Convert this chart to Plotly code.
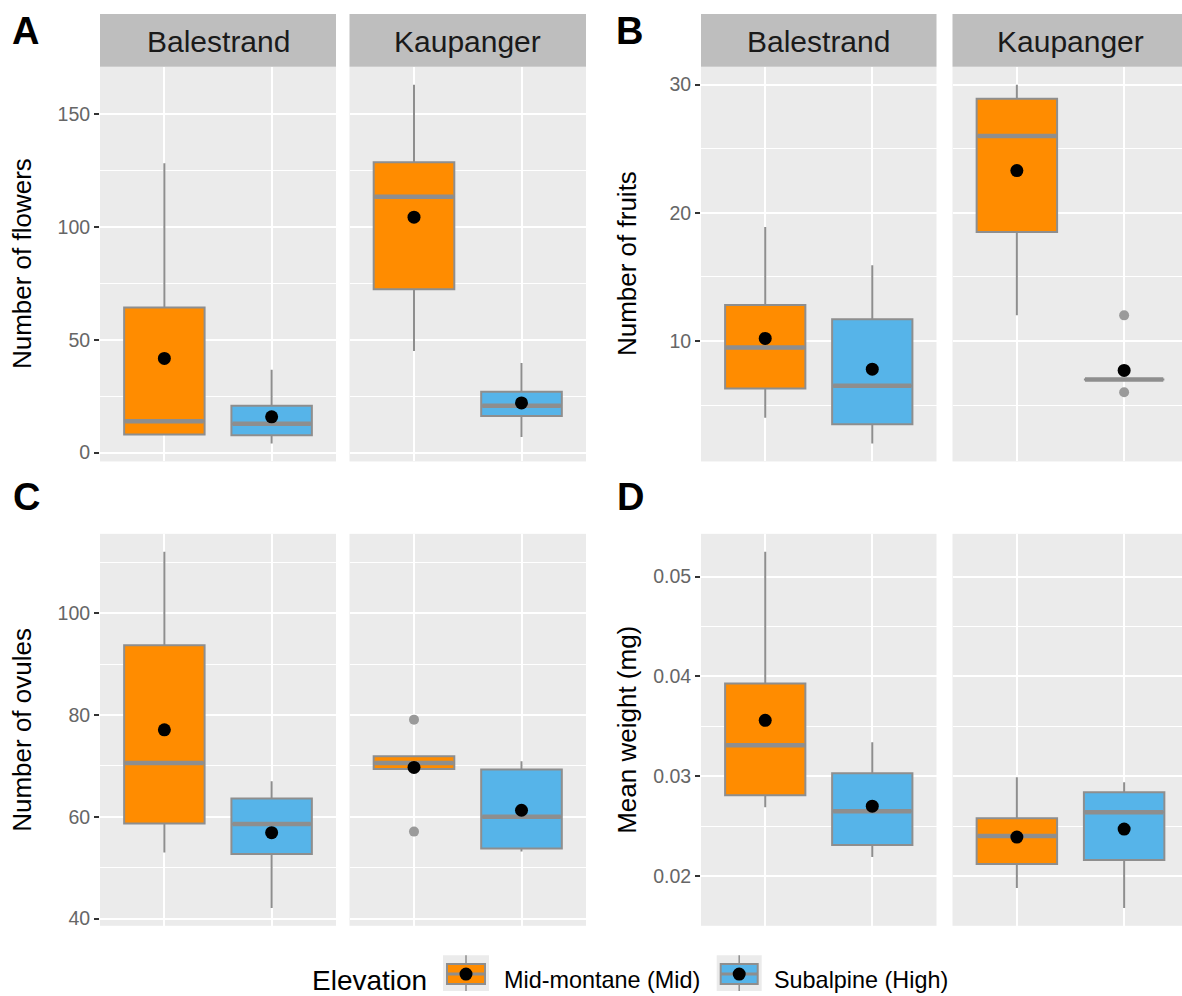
import plotly.graph_objects as go

W, H = 1182, 996
FONT = "Liberation Sans, Arial, Helvetica, sans-serif"

# ---------------- data ----------------
sites = ["Balestrand", "Kaupanger"]
elevations = ["Mid-montane (Mid)", "Subalpine (High)"]

# values indexed [site][elevation]
flowers_lower = [[8.0, 4.0], [45.0, 6.9]]
flowers_q1 = [[8.0, 7.7], [72.3, 16.2]]
flowers_median = [[13.9, 12.8], [113.3, 20.7]]
flowers_q3 = [[64.3, 20.7], [128.6, 26.9]]
flowers_upper = [[128.2, 36.7], [163.0, 39.7]]
flowers_mean = [[41.7, 15.8], [104.3, 22.0]]
flowers_outliers = [[[], []], [[], []]]

fruits_lower = [[4.0, 2.0], [12.0, 7.0]]
fruits_q1 = [[6.3, 3.5], [18.5, 7.0]]
fruits_median = [[9.5, 6.5], [26.0, 7.0]]
fruits_q3 = [[12.8, 11.7], [28.9, 7.0]]
fruits_upper = [[18.9, 15.9], [30.0, 7.0]]
fruits_mean = [[10.2, 7.8], [23.3, 7.7]]
fruits_outliers = [[[], []], [[], [12.0, 6.0]]]

ovules_lower = [[53.0, 42.1], [69.4, 53.2]]
ovules_q1 = [[58.7, 52.7], [69.4, 53.8]]
ovules_median = [[70.6, 58.6], [70.6, 60.0]]
ovules_q3 = [[93.7, 63.6], [71.9, 69.3]]
ovules_upper = [[112.1, 67.0], [71.9, 70.9]]
ovules_mean = [[77.1, 56.9], [69.7, 61.3]]
ovules_outliers = [[[], []], [[79.1, 57.1], []]]

weight_lower = [[0.0269, 0.0219], [0.0188, 0.0168]]
weight_q1 = [[0.0281, 0.0231], [0.0212, 0.0216]]
weight_median = [[0.0331, 0.0265], [0.0240, 0.0264]]
weight_q3 = [[0.0393, 0.0303], [0.0258, 0.0284]]
weight_upper = [[0.0525, 0.0334], [0.0299, 0.0294]]
weight_mean = [[0.0356, 0.0270], [0.0239, 0.0247]]
weight_outliers = [[[], []], [[], []]]

panel_letters = ["A", "B", "C", "D"]
panel_titles = ["Number of flowers", "Number of fruits", "Number of ovules", "Mean weight (mg)"]
panel_ticks = [[0, 50, 100, 150], [10, 20, 30], [40, 60, 80, 100], [0.02, 0.03, 0.04, 0.05]]
panel_minor = [25, 5, 10, 0.005]

panel_data = [
    (flowers_lower, flowers_q1, flowers_median, flowers_q3, flowers_upper, flowers_mean, flowers_outliers),
    (fruits_lower, fruits_q1, fruits_median, fruits_q3, fruits_upper, fruits_mean, fruits_outliers),
    (ovules_lower, ovules_q1, ovules_median, ovules_q3, ovules_upper, ovules_mean, ovules_outliers),
    (weight_lower, weight_q1, weight_median, weight_q3, weight_upper, weight_mean, weight_outliers),
]

# ---------------- style / geometry ----------------
FILLS = ["#FF8C00", "#56B4E9"]
GREY = "#8E8E8E"
OUTLIER = "#9A9A9A"
PANEL_BG = "#EBEBEB"
STRIP_BG = "#BEBEBE"
BOX_W = 0.75

COL_X = [[(100, 336), (349.5, 586)], [(701, 936.5), (952.5, 1188.5)]]
ROW_Y = [(67, 463.3), (536, 929.5)]
TITLE_X = [22, 627]
LETTER_POS = [(12, 31), (616, 31), (13, 499), (617, 499)]
STRIP_Y = (14, 67)


def fx(px):
    return px / W


def fy(py):
    return 1 - py / H


fig = go.Figure()
layout = {}
annotations = []
shapes = []

box_traces = []
line_traces = []
point_traces = []

for p in range(4):
    col, row = p % 2, p // 2
    lower, q1, med, q3, upper, mean, outl = panel_data[p]
    # ggplot-like 5% expansion of the data range
    allv = []
    for s in range(2):
        for e in range(2):
            allv += [lower[s][e], upper[s][e], mean[s][e]] + list(outl[s][e])
    lo, hi = min(allv), max(allv)
    pad = 0.05 * (hi - lo)
    yrange = [lo - pad, hi + pad]

    for s in range(2):
        n = p * 2 + s + 1
        xa = "x" if n == 1 else f"x{n}"
        ya = "y" if n == 1 else f"y{n}"
        x0p, x1p = COL_X[col][s]
        x1c = min(x1p, W)
        xr_hi = 0.4 + 2.2 * (x1c - x0p) / (x1p - x0p)
        y0p, y1p = ROW_Y[row]
        layout["xaxis" if n == 1 else f"xaxis{n}"] = dict(
            domain=[fx(x0p), fx(x1c)], anchor=ya, range=[0.4, xr_hi],
            showticklabels=False, ticks="", tickvals=[1, 2],
            showgrid=True, gridcolor="white", gridwidth=2, zeroline=False,
            showline=False, fixedrange=True,
        )
        layout["yaxis" if n == 1 else f"yaxis{n}"] = dict(
            domain=[fy(y1p), fy(y0p)], anchor=xa, range=yrange,
            tickvals=panel_ticks[p], showticklabels=(s == 0),
            ticks="outside" if s == 0 else "", ticklen=5, tickwidth=1.5, tickcolor="#333333",
            tickfont=dict(family=FONT, size=19.5, color="#666666"),
            showgrid=True, gridcolor="white", gridwidth=2, zeroline=False, showline=False,
            minor=dict(dtick=panel_minor[p], tick0=0, showgrid=True, gridcolor="white", gridwidth=1, ticks=""),
            fixedrange=True,
        )
        for e in range(2):
            xpos = e + 1
            box_traces.append(go.Box(
                x=[xpos], q1=[q1[s][e]], median=[med[s][e]], q3=[q3[s][e]],
                lowerfence=[lower[s][e]], upperfence=[upper[s][e]],
                width=BOX_W, whiskerwidth=0, boxpoints=False,
                fillcolor=FILLS[e], line=dict(color=GREY, width=2),
                xaxis=xa, yaxis=ya, showlegend=False, hoverinfo="skip",
            ))
            line_traces.append(go.Scatter(
                x=[xpos - BOX_W / 2 + 0.01, xpos + BOX_W / 2 - 0.01], y=[med[s][e], med[s][e]],
                mode="lines", line=dict(color=GREY, width=4.5),
                xaxis=xa, yaxis=ya, showlegend=False, hoverinfo="skip",
            ))
            if outl[s][e]:
                point_traces.append(go.Scatter(
                    x=[xpos] * len(outl[s][e]), y=outl[s][e], mode="markers",
                    marker=dict(color=OUTLIER, size=10),
                    xaxis=xa, yaxis=ya, showlegend=False, hoverinfo="skip",
                ))
            point_traces.append(go.Scatter(
                x=[xpos], y=[mean[s][e]], mode="markers",
                marker=dict(color="black", size=13),
                xaxis=xa, yaxis=ya, showlegend=False, hoverinfo="skip",
            ))
        # strips (top row only)
        if row == 0:
            shapes.append(dict(type="rect", xref="paper", yref="paper",
                               x0=fx(x0p), x1=fx(x1c), y0=fy(STRIP_Y[1]), y1=fy(STRIP_Y[0]),
                               fillcolor=STRIP_BG, line=dict(width=0), layer="below"))
            annotations.append(dict(text=sites[s], xref="paper", yref="paper",
                                    x=fx((x0p + x1p) / 2), y=fy(42), xanchor="center", yanchor="middle",
                                    showarrow=False, font=dict(family=FONT, size=30, color="#1A1A1A")))
    # y title
    y0p, y1p = ROW_Y[row]
    annotations.append(dict(text=panel_titles[p], xref="paper", yref="paper",
                            x=fx(TITLE_X[col]), y=fy((y0p + y1p) / 2), textangle=-90,
                            xanchor="center", yanchor="middle", showarrow=False,
                            font=dict(family=FONT, size=26, color="black")))
    lx, ly = LETTER_POS[p]
    annotations.append(dict(text=f"<b>{panel_letters[p]}</b>", xref="paper", yref="paper",
                            x=fx(lx - 2), y=fy(ly), xanchor="left", yanchor="middle", showarrow=False,
                            font=dict(family=FONT, size=38, color="black")))

for t in box_traces + line_traces + point_traces:
    fig.add_trace(t)

# ---------------- legend (drawn) ----------------
annotations.append(dict(text="Elevation", xref="paper", yref="paper", x=fx(310), y=fy(984),
                        xanchor="left", yanchor="middle", showarrow=False,
                        font=dict(family=FONT, size=28, color="black")))
key_x = [(443, 489), (716.7, 761.7)]
label_x = [502, 772]
ky0, ky1 = 959, 995
for e in range(2):
    kx0, kx1 = key_x[e]
    cx = (kx0 + kx1) / 2
    by0, by1 = 968, 988
    my = (by0 + by1) / 2
    shapes.append(dict(type="rect", xref="paper", yref="paper", x0=fx(kx0), x1=fx(kx1),
                       y0=fy(ky1), y1=fy(ky0), fillcolor=PANEL_BG, line=dict(width=0)))
    shapes.append(dict(type="line", xref="paper", yref="paper", x0=fx(cx), x1=fx(cx),
                       y0=fy(ky1), y1=fy(ky0), line=dict(color=GREY, width=1.5)))
    shapes.append(dict(type="rect", xref="paper", yref="paper", x0=fx(kx0 + 4), x1=fx(kx1 - 4),
                       y0=fy(by1), y1=fy(by0), fillcolor=FILLS[e], line=dict(color=GREY, width=2)))
    shapes.append(dict(type="line", xref="paper", yref="paper", x0=fx(kx0 + 4), x1=fx(kx1 - 4),
                       y0=fy(my), y1=fy(my), line=dict(color=GREY, width=3)))
    shapes.append(dict(type="circle", xref="paper", yref="paper", x0=fx(cx - 6.5), x1=fx(cx + 6.5),
                       y0=fy(my + 6.5), y1=fy(my - 6.5), fillcolor="black", line=dict(width=0)))
    annotations.append(dict(text=elevations[e], xref="paper", yref="paper", x=fx(label_x[e]), y=fy(984),
                            xanchor="left", yanchor="middle", showarrow=False,
                            font=dict(family=FONT, size=23.4, color="black")))

fig.update_layout(
    width=W, height=H, margin=dict(l=0, r=0, t=0, b=0),
    paper_bgcolor="white", plot_bgcolor=PANEL_BG,
    showlegend=False, annotations=annotations, shapes=shapes,
    font=dict(family=FONT),
    **layout,
)

fig.write_html("out.html", config={"displayModeBar": False})
